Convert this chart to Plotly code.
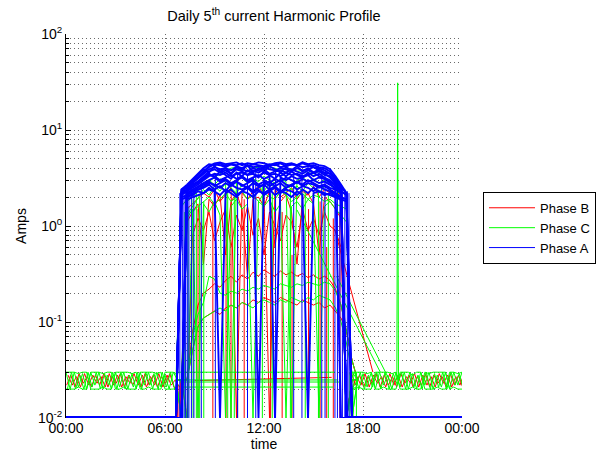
import plotly.graph_objects as go

# ---------------- data (Amps) ----------------
# daytime samples every 20 minutes starting at 06:40
DAY_START_H = 6 + 40 / 60
DAY_STEP_H = 20 / 60
# night samples every 15 minutes
NIGHT_STEP_H = 0.25
MORNING_START_H = 0.0
EVENING_START_H = 17.25
FLOOR = 0.01

x_tick_hours = [0, 6, 12, 18, 24]
x_tick_labels = ["00:00", "06:00", "12:00", "18:00", "00:00"]
y_tick_values = [0.01, 0.1, 1, 10, 100]
y_tick_labels = ["10<sup>-2</sup>", "10<sup>-1</sup>", "10<sup>0</sup>", "10<sup>1</sup>", "10<sup>2</sup>"]

# ---- Phase A (blue) daytime profiles
phase_a_days = [
    [0.01, 2.4, 2.6, 2.9, 3.2, 3.6, 4.1, 4.4, 4.3, 4.1, 4.4, 4.2, 4.0, 4.3, 4.1, 4.2, 4.0, 4.3, 4.4, 4.1, 4.2, 4.4, 4.3, 4.1, 4.2, 4.3, 4.1, 4.0, 3.7, 3.1, 2.4, 0.01, 0.01, 0.01],
    [0.01, 0.01, 2.3, 2.6, 2.9, 3.3, 3.7, 3.9, 3.6, 3.8, 3.5, 3.9, 3.7, 3.4, 3.8, 3.6, 3.9, 3.5, 3.7, 3.8, 3.6, 3.9, 3.7, 3.5, 3.8, 3.6, 3.7, 3.4, 3.3, 2.9, 2.5, 2.2, 0.01, 0.01],
    [0.01, 2.2, 2.4, 2.6, 2.8, 3.1, 3.4, 3.3, 3.0, 3.2, 3.4, 3.1, 3.3, 3.0, 3.2, 3.4, 3.1, 3.3, 0.01, 3.2, 3.0, 3.3, 3.1, 3.2, 3.4, 3.0, 3.2, 3.1, 2.9, 2.6, 2.3, 0.01, 0.01, 0.01],
    [0.01, 2.0, 2.1, 2.3, 2.4, 2.6, 2.8, 2.7, 2.5, 2.8, 2.6, 2.9, 2.7, 2.5, 2.8, 2.6, 2.7, 2.9, 2.6, 2.8, 2.5, 2.7, 2.9, 2.6, 2.8, 2.7, 2.5, 2.6, 2.4, 2.2, 2.0, 0.01, 0.01, 0.01],
    [0.01, 0.01, 1.9, 2.0, 2.1, 2.2, 2.4, 2.3, 0.01, 2.2, 2.4, 2.1, 2.3, 2.2, 2.0, 2.3, 2.2, 2.4, 2.1, 2.3, 2.2, 2.0, 2.3, 2.1, 0.01, 2.2, 2.3, 2.1, 2.2, 2.0, 1.9, 1.8, 0.01, 0.01],
    [0.01, 2.3, 2.5, 2.8, 3.1, 3.5, 3.9, 4.1, 3.9, 4.0, 3.8, 4.1, 3.9, 3.7, 4.0, 3.8, 4.1, 3.9, 3.8, 4.0, 3.9, 3.7, 4.0, 3.8, 3.9, 4.1, 3.8, 3.6, 3.5, 3.2, 2.6, 0.01, 0.01, 0.01],
    [0.01, 0.01, 2.2, 2.4, 2.6, 2.8, 3.0, 3.2, 2.9, 3.1, 2.8, 3.0, 3.2, 2.9, 3.1, 0.01, 3.0, 2.8, 3.1, 2.9, 3.2, 3.0, 2.8, 3.1, 2.9, 3.0, 2.8, 2.9, 2.7, 2.5, 2.3, 2.1, 0.01, 0.01],
    [0.01, 2.1, 2.3, 2.5, 2.7, 3.0, 3.3, 3.5, 3.4, 3.6, 3.3, 3.5, 3.6, 3.4, 3.5, 3.3, 3.6, 3.4, 3.5, 3.3, 3.6, 3.4, 3.5, 3.3, 3.4, 3.6, 3.3, 3.1, 2.8, 2.4, 0.01, 0.01, 0.01, 0.01],
    [0.01, 0.01, 2.5, 2.8, 3.2, 3.7, 4.2, 4.5, 4.6, 4.4, 4.5, 4.6, 4.3, 4.5, 4.4, 4.6, 4.5, 4.3, 4.5, 4.6, 4.4, 4.5, 4.3, 4.6, 4.4, 4.5, 4.3, 4.2, 3.9, 3.3, 2.7, 2.2, 0.01, 0.01],
    [0.01, 1.9, 2.0, 2.1, 2.3, 2.2, 2.5, 2.3, 2.1, 2.4, 2.2, 2.0, 2.3, 2.5, 2.2, 2.4, 2.1, 2.3, 2.5, 2.2, 2.4, 2.3, 2.1, 2.4, 2.2, 2.5, 2.3, 2.2, 2.1, 2.0, 1.9, 0.01, 0.01, 0.01],
    [0.01, 2.3, 2.6, 3.0, 3.4, 3.9, 3.6, 4.2, 3.7, 4.0, 3.5, 4.1, 3.8, 4.3, 3.6, 4.0, 3.7, 4.2, 3.9, 3.6, 4.1, 3.8, 4.2, 3.7, 4.0, 3.6, 3.9, 3.5, 3.2, 2.8, 2.3, 0.01, 0.01, 0.01],
    [0.01, 0.01, 2.1, 2.3, 2.5, 2.7, 2.9, 2.6, 2.8, 3.0, 2.7, 2.9, 2.6, 2.8, 3.0, 2.7, 2.9, 2.6, 2.8, 3.0, 2.7, 2.6, 2.9, 2.7, 3.0, 2.8, 2.6, 2.7, 2.5, 2.4, 2.2, 0.01, 0.01, 0.01],
    [0.01, 2.4, 2.7, 3.1, 3.5, 4.0, 4.4, 4.3, 4.5, 4.2, 4.4, 4.3, 4.5, 4.2, 4.4, 4.3, 4.2, 4.4, 4.3, 4.5, 4.2, 4.4, 4.3, 4.5, 4.3, 4.1, 4.0, 3.8, 3.5, 3.0, 2.5, 0.01, 0.01, 0.01],
    [0.01, 2.2, 2.4, 2.7, 2.9, 3.2, 3.5, 3.2, 3.7, 3.4, 3.1, 3.6, 3.3, 3.8, 3.5, 3.2, 3.7, 3.4, 3.1, 3.6, 3.3, 3.7, 3.4, 3.2, 3.6, 3.3, 3.5, 3.2, 3.0, 2.7, 2.3, 2.1, 0.01, 0.01],
    [0.01, 0.01, 2.0, 2.2, 2.4, 2.5, 2.7, 2.4, 2.6, 2.3, 2.7, 2.5, 2.4, 2.6, 2.3, 2.5, 2.7, 2.4, 2.6, 2.3, 2.5, 2.7, 2.4, 2.6, 2.5, 2.3, 2.6, 2.4, 2.3, 2.1, 2.0, 1.9, 0.01, 0.01],
]
phase_a_night_hours = [[0.0, 6.67], [17.0, 24.0]]
phase_a_drop_hours = [6.9, 7.05, 7.15, 7.25, 7.35, 7.45, 7.6, 7.75, 8.2, 9.05, 10.4, 11.0, 11.5, 12.7, 13.8, 14.3, 15.5, 15.7, 16.3, 16.45, 16.6, 16.75, 16.9, 17.05, 17.15]
phase_a_drop_tops = [2.2, 2.3, 2.4, 2.3, 2.5, 2.4, 2.6, 2.5, 3.0, 3.5, 3.6, 3.5, 3.8, 3.7, 3.6, 3.7, 3.8, 3.6, 3.2, 3.0, 2.8, 2.6, 2.4, 2.3, 2.2]

# ---- Phase C (green)
phase_c_days = [
    [0.025, 0.025, 1.8, 2.0, 2.3, 2.6, 2.9, 3.2, 3.5, 3.8, 4.0, 4.1, 3.9, 4.2, 4.0, 4.1, 3.9, 4.1, 4.0, 3.8, 4.0, 3.9, 3.7, 3.8, 3.6, 3.5, 3.7, 3.4, 3.3, 3.0, 2.5, 0.01, 0.025, 0.025],
    [0.025, 0.025, 0.01, 1.4, 1.6, 1.8, 2.0, 1.7, 1.9, 2.2, 1.8, 2.0, 2.3, 1.9, 2.1, 1.8, 2.2, 2.0, 1.9, 2.3, 2.1, 1.8, 2.0, 2.2, 1.9, 2.1, 2.0, 1.8, 1.9, 1.7, 1.6, 1.5, 0.01, 0.025],
    [0.025, 1.6, 1.9, 2.2, 2.5, 2.8, 3.0, 2.7, 3.1, 2.9, 0.01, 3.0, 3.2, 2.8, 3.1, 2.9, 3.3, 3.0, 2.8, 3.1, 2.9, 0.01, 3.0, 3.2, 2.9, 3.1, 2.8, 3.0, 2.7, 2.4, 2.1, 0.01, 0.02, 0.025],
    [0.025, 0.025, 0.025, 0.07, 0.12, 0.16, 0.3, 0.28, 0.2, 0.19, 0.21, 0.2, 0.22, 0.21, 0.23, 0.22, 0.24, 0.23, 0.22, 0.25, 0.24, 0.23, 0.25, 0.24, 0.26, 0.25, 0.24, 0.26, 0.25, 0.21, 0.15, 0.08, 0.04, 0.025],
    [0.025, 0.025, 0.025, 0.05, 0.09, 0.11, 0.12, 0.13, 0.14, 0.13, 0.15, 0.14, 0.16, 0.15, 0.14, 0.16, 0.17, 0.16, 0.15, 0.17, 0.16, 0.18, 0.17, 0.16, 0.18, 0.17, 0.19, 0.18, 0.17, 0.14, 0.1, 0.06, 0.03, 0.025],
    [0.025, 0.01, 1.2, 1.5, 0.01, 1.7, 1.4, 1.8, 1.3, 0.01, 1.6, 1.9, 1.5, 1.7, 0.01, 1.8, 1.6, 1.9, 1.4, 1.7, 0.01, 1.6, 1.8, 1.5, 1.9, 1.7, 0.01, 1.6, 1.8, 1.5, 1.3, 1.1, 0.01, 0.025],
    [0.025, 0.01, 1.3, 1.6, 2.0, 2.4, 2.1, 2.6, 2.3, 2.8, 2.5, 2.2, 2.7, 2.4, 2.9, 2.6, 2.3, 2.8, 2.5, 2.2, 2.7, 2.4, 2.6, 2.3, 2.8, 2.5, 2.2, 2.6, 2.4, 2.1, 1.8, 0.01, 0.025, 0.025],
]
phase_c_mornings = [
    [0.03, 0.02, 0.03, 0.021, 0.029, 0.02, 0.03, 0.022, 0.03, 0.02, 0.028, 0.02, 0.03, 0.021, 0.03, 0.02, 0.029, 0.02, 0.03, 0.022, 0.03, 0.02, 0.03, 0.021, 0.028, 0.02, 0.03, 0.025],
    [0.02, 0.03, 0.02, 0.028, 0.02, 0.03, 0.021, 0.03, 0.02, 0.029, 0.022, 0.03, 0.02, 0.03, 0.02, 0.028, 0.021, 0.03, 0.02, 0.03, 0.022, 0.029, 0.02, 0.03, 0.021, 0.03, 0.02, 0.022],
    [0.03, 0.03, 0.03, 0.029, 0.03, 0.03, 0.02, 0.02, 0.02, 0.021, 0.02, 0.02, 0.03, 0.03, 0.03, 0.03, 0.029, 0.03, 0.02, 0.02, 0.021, 0.02, 0.02, 0.02, 0.03, 0.03, 0.03, 0.028],
    [0.02, 0.02, 0.02, 0.021, 0.02, 0.02, 0.03, 0.03, 0.03, 0.029, 0.03, 0.03, 0.02, 0.02, 0.021, 0.02, 0.02, 0.02, 0.03, 0.03, 0.03, 0.03, 0.029, 0.03, 0.02, 0.02, 0.02, 0.021],
]
phase_c_evenings = [
    [0.025, 0.03, 0.02, 0.029, 0.021, 0.03, 0.02, 0.03, 0.022, 0.028, 0.02, 0.03, 0.021, 0.03, 0.02, 0.029, 0.02, 0.03, 0.022, 0.03, 0.02, 0.028, 0.021, 0.03, 0.02, 0.03, 0.022, 0.03],
    [0.02, 0.021, 0.03, 0.02, 0.028, 0.021, 0.03, 0.02, 0.03, 0.02, 0.029, 0.022, 0.03, 0.02, 0.03, 0.021, 0.028, 0.02, 0.03, 0.02, 0.029, 0.021, 0.03, 0.02, 0.03, 0.022, 0.029, 0.02],
    [0.03, 0.03, 0.03, 0.03, 0.029, 0.03, 0.02, 0.02, 0.021, 0.02, 0.02, 0.02, 0.03, 0.03, 0.03, 0.028, 0.03, 0.03, 0.02, 0.02, 0.02, 0.021, 0.02, 0.02, 0.03, 0.03, 0.029, 0.03],
    [0.02, 0.02, 0.021, 0.02, 0.02, 0.02, 0.03, 0.03, 0.03, 0.03, 0.029, 0.03, 0.02, 0.02, 0.02, 0.021, 0.02, 0.02, 0.03, 0.029, 0.03, 0.03, 0.03, 0.03, 0.02, 0.021, 0.02, 0.02],
]
phase_c_night_offsets = [0.0, 0.083, 0.0, 0.0]
phase_c_flat_start = [6.75, 6.8, 6.9, 7.0]
phase_c_flat_end = [16.3, 16.5, 16.6, 16.2]
phase_c_flat_level = [0.03, 0.0249, 0.0237, 0.021]
phase_c_gap_hours = [[14.0, 19.05], [16.4, 19.6]]
phase_c_gap_values = [[1.47, 0.03], [0.3, 0.025]]
phase_c_spike_hours = [20.05, 20.1, 20.15]
phase_c_spike_values = [0.025, 31.0, 0.025]
phase_c_drop_hours = [7.2, 7.4, 7.7, 7.9, 8.1, 8.35, 9.8, 10.2, 11.9, 12.5, 13.6, 14.5, 15.3, 15.9, 17.2, 17.4, 17.6]
phase_c_drop_tops = [1.4, 1.6, 1.9, 2.2, 2.0, 1.8, 2.4, 2.0, 2.6, 2.2, 2.5, 2.3, 2.4, 2.1, 0.03, 0.03, 0.03]

# ---- Phase B (red)
phase_b_days = [
    [0.025, 0.01, 1.5, 1.7, 1.9, 2.2, 2.0, 2.4, 1.8, 2.1, 2.5, 0.01, 2.2, 1.9, 2.3, 2.6, 2.1, 0.01, 2.4, 2.0, 2.2, 2.5, 1.9, 2.3, 2.1, 2.6, 2.0, 2.4, 2.2, 2.5, 1.9, 0.01, 0.025, 0.025],
    [0.025, 0.025, 0.01, 0.8, 1.2, 0.9, 1.4, 0.7, 1.1, 1.5, 0.6, 1.3, 0.9, 1.6, 0.8, 1.2, 0.5, 1.4, 1.0, 0.7, 1.3, 1.1, 0.6, 1.5, 0.9, 1.2, 0.8, 1.4, 1.0, 0.9, 0.6, 0.01, 0.025, 0.025],
    [0.025, 0.025, 0.025, 0.05, 0.09, 0.11, 0.12, 0.13, 0.12, 0.14, 0.15, 0.14, 0.16, 0.15, 0.17, 0.16, 0.18, 0.17, 0.16, 0.18, 0.17, 0.16, 0.15, 0.17, 0.16, 0.15, 0.16, 0.14, 0.15, 0.13, 0.11, 0.08, 0.04, 0.025],
    [0.025, 0.025, 0.025, 0.08, 0.15, 0.2, 0.22, 0.25, 0.23, 0.27, 0.3, 0.26, 0.31, 0.28, 0.33, 0.3, 0.35, 0.32, 0.3, 0.34, 0.31, 0.33, 0.3, 0.32, 0.29, 0.31, 0.28, 0.3, 0.27, 0.22, 0.15, 0.08, 0.04, 0.025],
    [0.025, 0.025, 1.1, 1.4, 1.7, 0.4, 1.9, 1.6, 2.1, 0.5, 1.8, 2.2, 1.5, 0.3, 1.9, 2.0, 1.6, 2.3, 0.6, 1.8, 2.1, 1.4, 0.4, 1.9, 2.2, 1.7, 0.5, 2.0, 1.8, 1.5, 1.2, 0.01, 0.025, 0.025],
]
phase_b_mornings = [
    [0.022, 0.028, 0.021, 0.029, 0.023, 0.027, 0.021, 0.028, 0.022, 0.029, 0.021, 0.027, 0.023, 0.029, 0.021, 0.028, 0.022, 0.027, 0.021, 0.029, 0.022, 0.028, 0.021, 0.027, 0.023, 0.029, 0.021, 0.02],
    [0.028, 0.022, 0.027, 0.021, 0.029, 0.022, 0.028, 0.023, 0.027, 0.021, 0.029, 0.022, 0.028, 0.021, 0.027, 0.023, 0.029, 0.022, 0.028, 0.021, 0.027, 0.022, 0.029, 0.021, 0.028, 0.022, 0.025, 0.021],
]
phase_b_evenings = [
    [0.03, 0.022, 0.028, 0.021, 0.027, 0.023, 0.029, 0.021, 0.028, 0.022, 0.027, 0.021, 0.029, 0.023, 0.028, 0.021, 0.027, 0.022, 0.029, 0.021, 0.028, 0.023, 0.027, 0.021, 0.029, 0.022, 0.028, 0.021],
    [0.021, 0.027, 0.022, 0.029, 0.021, 0.028, 0.023, 0.027, 0.021, 0.029, 0.022, 0.028, 0.021, 0.027, 0.023, 0.029, 0.021, 0.028, 0.022, 0.027, 0.021, 0.029, 0.023, 0.028, 0.021, 0.027, 0.022, 0.029],
]
phase_b_night_offsets = [0.04, 0.125]
phase_b_flat_hours = [[7.8, 16.1]]
phase_b_flat_values = [[0.0245, 0.0265]]
phase_b_gap_hours = [[16.3, 18.6]]
phase_b_gap_values = [[0.9, 0.03]]
phase_b_drop_hours = [6.75, 6.85, 6.95, 8.0, 8.9, 9.7, 10.0, 10.4, 10.8, 12.4, 13.1, 13.7, 14.7, 15.4, 15.8, 16.2, 16.6, 17.3]
phase_b_drop_tops = [0.022, 0.022, 0.025, 1.5, 1.8, 1.3, 0.6, 0.7, 1.9, 1.6, 1.4, 0.5, 1.5, 1.8, 0.6, 1.2, 1.4, 0.03]


# ---------------- helpers ----------------
def grid(start, step, n):
    return [start + i * step for i in range(n)]


class Path:
    def __init__(self):
        self.x, self.y = [], []

    def add(self, xs, ys):
        self.x += list(xs) + [None]
        self.y += list(ys) + [None]

    def day(self, values):
        self.add(grid(DAY_START_H, DAY_STEP_H, len(values)), values)

    def night(self, start, values):
        self.add(grid(start, NIGHT_STEP_H, len(values)), values)

    def drops(self, hours, tops):
        for h, t in zip(hours, tops):
            self.add([h, h], [t, FLOOR])


# Phase B
pb = Path()
for off, vals in zip(phase_b_night_offsets, phase_b_mornings):
    pb.night(MORNING_START_H + off, vals)
for off, vals in zip(phase_b_night_offsets, phase_b_evenings):
    pb.night(EVENING_START_H + off, vals)
for d in phase_b_days:
    pb.day(d)
for hs, vs in zip(phase_b_flat_hours, phase_b_flat_values):
    pb.add(hs, vs)
for hs, vs in zip(phase_b_gap_hours, phase_b_gap_values):
    pb.add(hs, vs)
pb.drops(phase_b_drop_hours, phase_b_drop_tops)

# Phase C
pc = Path()
for off, vals in zip(phase_c_night_offsets, phase_c_mornings):
    pc.night(MORNING_START_H + off, vals)
for off, vals in zip(phase_c_night_offsets, phase_c_evenings):
    pc.night(EVENING_START_H + off, vals)
for d in phase_c_days:
    pc.day(d)
for s, e, lv in zip(phase_c_flat_start, phase_c_flat_end, phase_c_flat_level):
    pc.add([s, e], [lv, lv])
for hs, vs in zip(phase_c_gap_hours, phase_c_gap_values):
    pc.add(hs, vs)
pc.add(phase_c_spike_hours, phase_c_spike_values)
pc.drops(phase_c_drop_hours, phase_c_drop_tops)

# Phase A
pa_days = Path()
for d in phase_a_days:
    pa_days.day(d)
pa_drops = Path()
pa_drops.drops(phase_a_drop_hours, phase_a_drop_tops)
floor_path = Path()
for hs in phase_a_night_hours:
    floor_path.add(hs, [FLOOR, FLOOR])

FONT = "Liberation Sans, Arial, Helvetica, sans-serif"
GRID = "#6a6a6a"
DOT = "1px,3px"

fig = go.Figure()
fig.add_trace(go.Scatter(x=pb.x, y=pb.y, mode="lines", name="Phase B",
                         line=dict(color="#ff0000", width=1)))
fig.add_trace(go.Scatter(x=pc.x, y=pc.y, mode="lines", name="Phase C",
                         line=dict(color="#00ff00", width=1)))
fig.add_trace(go.Scatter(x=pa_days.x, y=pa_days.y, mode="lines", name="Phase A",
                         legendgroup="A", showlegend=False,
                         line=dict(color="#0000ff", width=1.9)))
fig.add_trace(go.Scatter(x=pa_drops.x, y=pa_drops.y, mode="lines", name="Phase A",
                         legendgroup="A", showlegend=True,
                         line=dict(color="#0000ff", width=1)))
fig.add_trace(go.Scatter(x=floor_path.x, y=floor_path.y, mode="lines", showlegend=False,
                         legendgroup="A", line=dict(color="#0000ff", width=4), hoverinfo="skip"))

minor_vals = [m * 10 ** e for e in range(-2, 2) for m in range(2, 10)]

fig.update_layout(
    width=605, height=456,
    margin=dict(l=66, r=143, t=34, b=38, autoexpand=False),
    paper_bgcolor="white", plot_bgcolor="white",
    font=dict(family=FONT, size=13, color="black"),
    title=dict(text="Daily 5<sup>th</sup> current Harmonic Profile",
               x=0.525, xref="paper", xanchor="center",
               y=1 - 16 / 456, yref="container", yanchor="middle",
               font=dict(size=14.5)),
    showlegend=True,
    legend=dict(x=1.053, y=0.589, xanchor="left", yanchor="top",
                bordercolor="black", borderwidth=1, bgcolor="white",
                font=dict(size=13), tracegroupgap=0, itemwidth=46),
    xaxis=dict(range=[0, 24], tickmode="array", tickvals=x_tick_hours, ticktext=x_tick_labels,
               showgrid=True, gridcolor=GRID, griddash=DOT, gridwidth=1,
               showline=False, zeroline=False, ticks="", automargin=False,
               tickfont=dict(size=14),
               title=dict(text="time", standoff=4, font=dict(size=14))),
    yaxis=dict(type="log", range=[-2, 2], tickmode="array", tickvals=y_tick_values,
               ticktext=y_tick_labels, automargin=False,
               tickfont=dict(size=14),
               showgrid=True, gridcolor=GRID, griddash=DOT, gridwidth=1,
               showline=True, linecolor="black", linewidth=1, zeroline=False,
               ticks="inside", ticklen=5, tickcolor="black",
               minor=dict(tickmode="array", tickvals=minor_vals, showgrid=True,
                          gridcolor=GRID, griddash=DOT, gridwidth=1,
                          ticks="inside", ticklen=3, tickcolor="black"),
               title=dict(text="Amps", standoff=8, font=dict(size=14))),
)

fig.write_html("out.html", config={"displayModeBar": False},
               post_script="document.body.style.margin='0px';document.body.style.overflow='hidden';")
